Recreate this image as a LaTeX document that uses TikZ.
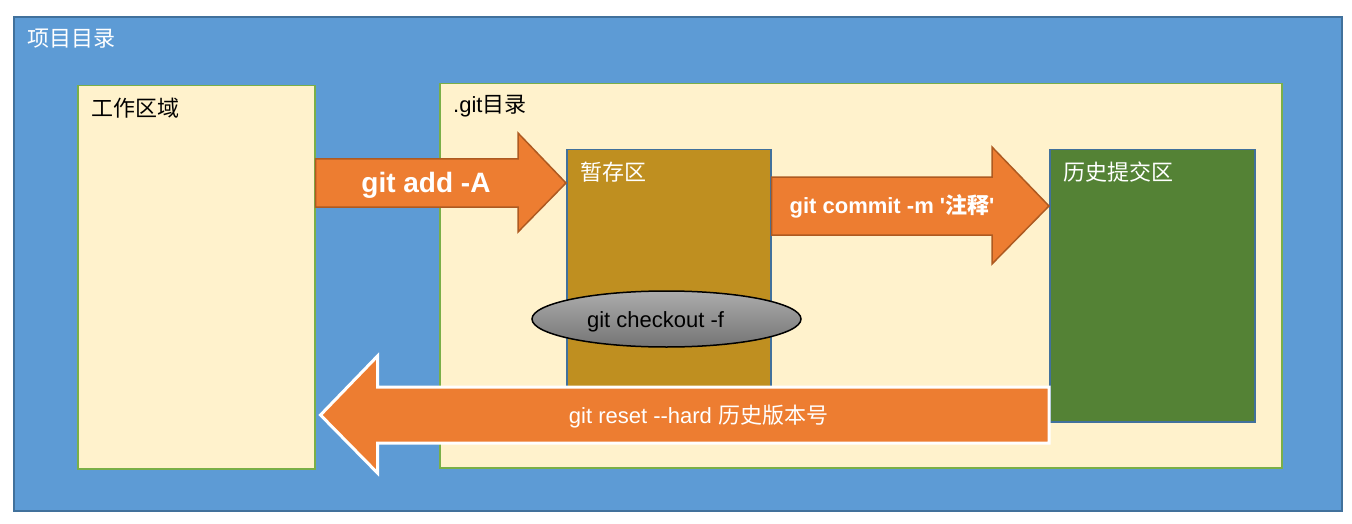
\documentclass[tikz,border=0pt]{standalone}
\usepackage{fontspec}
\setmainfont{Liberation Sans}
\newfontfamily\cjk{Noto Sans CJK SC}
\usetikzlibrary{positioning, calc, shapes.geometric}
\definecolor{projblue}{RGB}{93,155,213}
\definecolor{projedge}{RGB}{65,113,156}
\definecolor{paleyellow}{RGB}{255,242,204}
\definecolor{paleedge}{RGB}{122,175,72}
\definecolor{stagegold}{RGB}{191,143,32}
\definecolor{histgreen}{RGB}{84,130,53}
\definecolor{gitorange}{RGB}{237,125,49}
\definecolor{orangeedge}{RGB}{174,90,33}
\definecolor{graytop}{RGB}{172,172,172}
\definecolor{graybot}{RGB}{116,116,116}
\tikzset{
  areabox/.style={draw=#1, line width=1.5pt, anchor=north west, inner sep=0pt},
  boxlabel/.style={anchor=west, inner sep=0pt, font=\fontsize{22}{26}\selectfont\cjk},
  blockarrow/.style={draw=orangeedge, fill=gitorange, line width=1.5pt},
  arrowlbl/.style={inner sep=0pt, text=white}
}

\begin{document}
\begin{tikzpicture}[x=1pt, y=-1pt]
  \path[use as bounding box, fill=white] (0,0) rectangle (1352,524);

  % areas
  \node[areabox=projedge, fill=projblue, line width=2pt, minimum width=1328pt, minimum height=494pt] (proj) at (13,16) {};
  \node[areabox=paleedge, fill=paleyellow, minimum width=237pt, minimum height=383pt] (work) at (77,85) {};
  \node[areabox=paleedge, fill=paleyellow, minimum width=842pt, minimum height=384pt] (gitdir) at (439,83) {};
  \node[areabox=projedge, fill=stagegold, minimum width=204pt, minimum height=270pt] (stage) at (566,149) {};
  \node[areabox=projedge, fill=histgreen, minimum width=205pt, minimum height=272pt] (hist) at (1049,149) {};

  \node[boxlabel, text=white] (projlbl) at ([shift={(14,23)}]proj.north west) {项目目录};
  \node[boxlabel] (worklbl) at ([shift={(14,23)}]work.north west) {工作区域};
  \node[boxlabel] (gitlbl) at ([shift={(14,23)}]gitdir.north west) {{\normalfont .git}目录};
  \node[boxlabel, text=white] (stagelbl) at ([shift={(14,23)}]stage.north west) {暂存区};
  \node[boxlabel, text=white] (histlbl) at ([shift={(14,23)}]hist.north west) {历史提交区};

  % git add
  \coordinate (addtail) at (work.east |- 0,183);
  \coordinate (addtip) at (stage.west |- 0,183);
  \draw[blockarrow] ($(addtail)+(0,-24)$) -- ($(addtip)+(-48,-24)$) -- ($(addtip)+(-48,-50)$) -- (addtip)
    -- ($(addtip)+(-48,49)$) -- ($(addtip)+(-48,24)$) -- ($(addtail)+(0,24)$) -- cycle;
  \node[arrowlbl, font=\fontsize{28}{32}\selectfont\bfseries] (addlbl) at (426,185) {git add -A};

  % git commit
  \coordinate (committail) at (stage.east |- 0,206);
  \coordinate (committip) at (hist.west |- 0,206);
  \draw[blockarrow] ($(committail)+(0,-29)$) -- ($(committip)+(-57,-29)$) -- ($(committip)+(-57,-59)$) -- (committip)
    -- ($(committip)+(-57,58)$) -- ($(committip)+(-57,29)$) -- ($(committail)+(0,29)$) -- cycle;
  \node[arrowlbl, font=\fontsize{22}{26}\selectfont\bfseries] (commitlbl) at (892,206)
    {git commit -m \textquotesingle{\cjk 注释}\textquotesingle};

  % checkout
  \node[draw=black, line width=1.5pt, ellipse, top color=graytop, bottom color=graybot,
    minimum width=269pt, minimum height=56pt, inner sep=0pt] (checkout) at (666.5,319) {};
  \node[inner sep=0pt, font=\fontsize{22}{26}\selectfont] (checkoutlbl) at (655.6,321.7) {git checkout -f};

  % git reset
  \coordinate (resettip) at ($(work.east |- 0,415)+(5,0)$);
  \coordinate (resettail) at (hist.west |- 0,415);
  \draw[draw=white, fill=gitorange, line width=3pt] ($(resettail)+(0,-28)$) -- ($(resettip)+(57,-28)$) -- ($(resettip)+(57,-59)$) -- (resettip)
    -- ($(resettip)+(57,58)$) -- ($(resettip)+(57,28)$) -- ($(resettail)+(0,28)$) -- cycle;
  \node[arrowlbl, font=\fontsize{22}{26}\selectfont] (resetlbl) at (698.5,416.5) {git reset -{}-hard {\cjk 历史版本号}};
\end{tikzpicture}
\end{document}
